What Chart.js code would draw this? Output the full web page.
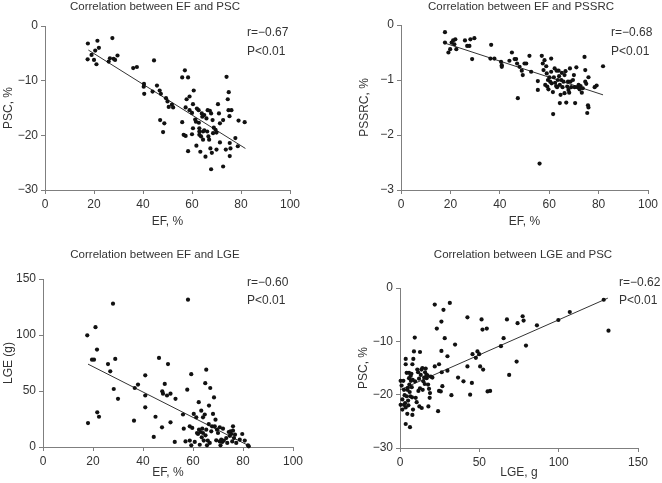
<!DOCTYPE html>
<html>
<head>
<meta charset="utf-8">
<script src="https://cdn.jsdelivr.net/npm/chart.js@4.4.1/dist/chart.umd.min.js"></script>
<style>
  body { margin: 0; background: #fff; }
  .panel { position: absolute; }
</style>
</head>
<body>
<div class="panel" style="left:0;top:0"><canvas id="c1" width="331" height="241"></canvas></div>
<div class="panel" style="left:331px;top:0"><canvas id="c2" width="331" height="241"></canvas></div>
<div class="panel" style="left:0;top:241px"><canvas id="c3" width="331" height="242"></canvas></div>
<div class="panel" style="left:331px;top:241px"><canvas id="c4" width="331" height="242"></canvas></div>
<script>
// EF (%) vs PSC (%)
const efPscPoints = [
  [17.5,-3.2],[17.4,-6.1],[19,-5.3],[20,-6.2],[20.5,-4.5],[21.4,-2.7],[21,-7],[22,-4],
  [27.5,-2.2],[26,-6.5],[26.5,-5.9],[28,-6],[28.6,-6.2],[29.6,-5.4],[36,-7.7],[37.5,-7.5],
  [44.5,-6.3],[40.4,-10.6],[40.3,-11.1],[40.5,-12.4],[43.9,-12],[45.7,-10.9],[46.8,-11.8],
  [47.3,-12.4],[47,-17.2],[48.7,-17.8],[48.2,-19.4],[49.4,-13.2],[50,-13.8],[50.5,-14.8],
  [51.8,-14.4],[52.3,-14.9],[56,-9.4],[57.1,-8.1],[58.4,-9.4],[57.8,-13.4],[56,-17.6],
  [57.4,-14.9],[56.6,-19.9],[57.4,-20.1],[58.4,-22.9],[59,-12.9],[59,-15.4],[60,-15.9],
  [60.4,-14.3],[60.7,-11.8],[60,-19.8],[60.4,-18.7],[61.3,-17.1],[61.6,-17.5],[61.8,-21.9],
  [62,-15.1],[62.7,-15.4],[62.8,-17.7],[63,-18.7],[63,-19.3],[63,-19.9],[63.4,-23],
  [63.7,-20.2],[64,-16],[64.2,-16.6],[64.5,-19.3],[64.5,-20.8],[65,-16.3],[65,-19.1],
  [65.5,-23.9],[65.9,-16.9],[66.2,-19.3],[66.4,-15.4],[66.7,-20.2],[67,-20.8],[67.3,-15.5],
  [67.5,-22.4],[67.8,-16],[67.8,-26.2],[68.1,-23.2],[68.4,-17.2],[68.6,-19.6],[68.9,-18.6],
  [69.6,-19],[70,-19.5],[70,-22.6],[70.6,-14.3],[71,-16],[71.4,-17.8],[71.4,-21.3],
  [72.7,-17.2],[72.7,-25.7],[74.1,-9.3],[73.8,-22.6],[74.6,-13.4],[75,-12.1],[74.9,-15.4],
  [75.3,-16.5],[75.4,-21.4],[75.4,-23.8],[75.7,-22.4],[76.1,-15.4],[77.7,-20.5],[78.7,-22],
  [79,-17.3],[81.5,-17.6]
];
const efPscFit = [[17.7,-4.4],[81.8,-22.4]];

// EF (%) vs PSSRC (%)
const efPssrcPoints = [
  [17.8,-0.13],[17.8,-0.32],[19.2,-0.5],[19.9,-0.44],[20.5,-0.32],[21.1,-0.28],[21.6,-0.35],
  [22,-0.26],[22.4,-0.44],[25.9,-0.28],[26.8,-0.38],[27.7,-0.38],[28.1,-0.26],[28.8,-0.62],
  [29.7,-0.24],[36.5,-0.36],[36.2,-0.61],[37.8,-0.61],[40.5,-0.67],[40.8,-0.73],[40.8,-0.76],
  [43.9,-0.65],[44.9,-0.5],[46,-0.62],[46.6,-0.62],[47,-0.7],[47.3,-1.33],[48,-0.76],
  [48.9,-0.83],[49.3,-0.91],[50,-0.7],[50.7,-0.7],[52,-0.56],[52.7,-0.85],[55.4,-1.02],
  [55.4,-1.18],[56.1,-2.52],[57,-0.56],[57.4,-0.7],[57.7,-0.82],[58.1,-0.64],[58.4,-1.09],
  [58.8,-0.75],[59,-0.88],[59.2,-1.12],[59.5,-1],[59.7,-1.17],[60.1,-0.95],[60.4,-1.03],
  [60.8,-0.61],[60.8,-0.85],[61,-1.06],[61.5,-1.22],[61.6,-1.62],[61.9,-0.95],[62.2,-0.79],
  [62.4,-1.05],[62.8,-1.11],[63,-0.83],[63.2,-1.13],[63.5,-1],[63.8,-0.83],[64,-0.93],
  [64.3,-1.09],[64.3,-1.42],[64.6,-1.27],[64.9,-1],[65.1,-0.87],[65.4,-1.13],[65.8,-1.03],
  [66.2,-0.91],[66.2,-1.24],[66.6,-0.84],[66.9,-1.41],[67.3,-1.12],[67.6,-1.03],[67.8,-1.18],
  [68.1,-1.23],[68.4,-0.79],[68.6,-1.03],[68.9,-1.13],[69.6,-1],[70,-0.91],[70.3,-1.13],
  [70.5,-1.42],[71,-0.77],[71.4,-1.13],[71.9,-1.09],[72.3,-1.17],[72.7,-1.11],[73.2,-1.23],
  [73.6,-1.15],[74.3,-0.58],[74.6,-0.82],[74.6,-1.03],[75,-1.07],[75.4,-1.6],[75.7,-1.46],
  [75.9,-1.5],[75.9,-0.95],[78.4,-1.13],[79.2,-1.1],[81.8,-0.75]
];
const efPssrcFit = [[17.8,-0.33],[81.8,-1.27]];

// EF (%) vs LGE (g)
const efLgePoints = [
  [18,21.4],[17.7,99.7],[21,107],[21.6,87],[19.6,78],[20.4,78],[21.7,31],[22.4,27],
  [26,74],[26.9,67.6],[28.3,51.8],[28.9,78.6],[28,128],[30,43],[36.4,23.5],[36.7,52.7],
  [38,55.7],[40.9,64],[40.9,46],[40.9,35.4],[44.3,9],[45,27],[46.4,79.5],[47.7,49.7],
  [47.6,17.6],[48,47.6],[48.7,56.3],[49.6,46],[50,74],[51,47.6],[51,22],[52.7,4.5],
  [53,43],[56,29],[56.3,16.4],[57.7,51.2],[58,131.5],[57,5],[58.7,18.5],[59.3,65],
  [58.7,5.7],[59.3,1.5],[59.7,17],[60.3,29.5],[60.7,4.5],[61.3,26.5],[61.6,12.5],[62,11.6],
  [62.3,40],[62.4,15.5],[62.7,2],[63,13.4],[63.3,32.4],[63.5,8.6],[63.7,16.4],[64,26.5],
  [64,12.5],[64.3,5.7],[64.7,29],[64.9,57],[65,10.4],[65.3,69],[65.3,15.5],[65.6,1.5],
  [65.9,5.7],[66.3,20.5],[66.4,37],[66.7,3.6],[66.9,52.7],[67.3,14],[67.6,18.5],[68,29.5],
  [68.4,44.3],[68.7,18.5],[69,24.4],[69.3,6],[69.6,15.5],[70,12.5],[70.7,17.6],[70.7,5],
  [71,1.5],[71.3,6.5],[71.7,4.5],[72,16.4],[72.3,5.7],[73.3,8],[73.7,3.6],[74.3,13.4],
  [74.7,10],[75,14],[75.3,11.6],[75.7,5],[76,14.6],[76,18.5],[76.4,8],[76.8,11],
  [77.3,3.6],[78.7,6.5],[79.7,11.6],[80.7,5.7],[82.3,0.6],[82,1.5]
];
const efLgeFit = [[18,74],[82,1.5]];

// LGE (g) vs PSC (%)
const lgePscPoints = [
  [0.4,-17.4],[0.4,-21.9],[1,-18.3],[1.5,-20.9],[1.5,-22.8],[2.1,-17.4],[2.5,-19.1],
  [2.5,-21.9],[2.9,-20.1],[3.2,-21.6],[3.6,-13.3],[3.6,-22.4],[3.6,-25.5],[3.6,-14.3],
  [4.2,-15.9],[4.2,-20.3],[4.6,-23.6],[4.6,-19.1],[5,-18.7],[5.1,-21.1],[5.3,-22],
  [5.7,-15.9],[5.7,-16.9],[5.9,-18.1],[6.1,-19.5],[6.3,-26.1],[6.5,-20.3],[6.7,-16.5],
  [6.9,-17.4],[7.2,-16.1],[7.4,-18.6],[7.6,-20.5],[7.8,-23.8],[7.8,-14.3],[8,-17.2],
  [8.2,-22.8],[8.4,-13.3],[8.8,-11.9],[9.3,-9.3],[9.5,-17.5],[9.9,-20.6],[10.5,-21.4],
  [10.9,-15.3],[11.4,-15.8],[11.6,-19.3],[12,-17],[12.2,-22.2],[12.6,-12],[12.6,-18.8],
  [13.1,-16.3],[13.5,-15.3],[13.7,-22.5],[14.1,-15],[14.3,-19.1],[14.7,-17.5],[15.2,-16.8],
  [15.6,-18],[15.8,-15.8],[16.2,-15.1],[16.6,-16.3],[16.8,-16.9],[17.3,-16.4],[17.7,-18.1],
  [17.9,-22.2],[18.3,-18.9],[18.7,-20.6],[18.9,-19.7],[19.4,-16.6],[20.4,-16.8],[21.9,-14.7],
  [21.9,-3.1],[23.2,-7.6],[24,-23.1],[24.6,-14.3],[24.6,-19.3],[25.7,-19.4],[26.1,-6.3],
  [26.1,-11.8],[26.3,-15.8],[26.7,-18.4],[27.4,-4.1],[28.2,-9.4],[29.9,-12.8],[29.9,-15.5],
  [31.4,-2.8],[32.4,-20.1],[34.7,-10.6],[36.6,-16.8],[40,-17.5],[42.5,-5.5],[42.5,-14.7],
  [44.2,-20],[45.3,-17.8],[45.7,-12.4],[47.8,-13.1],[48.8,-11.9],[49.9,-12.4],[50.5,-14.7],
  [51.4,-5.9],[52,-7.8],[52.4,-15.3],[54.7,-7.6],[55.2,-19.4],[56.8,-19.3],[63.6,-10.9],
  [65.3,-9.4],[67.4,-5.9],[68.8,-16.3],[73.5,-13.8],[74.1,-6.6],[77.3,-5.3],[77.9,-6.1],
  [79.4,-10.8],[86.3,-7],[99.8,-6],[107,-4.5],[128.4,-2.2],[131.4,-8]
];
const lgePscFit = [[0,-19.1],[131,-1.9]];

const efTicks = [0, 20, 40, 60, 80, 100];
const lgeTicks = [0, 50, 100, 150];
const pscTicks = [-30, -20, -10, 0];
const pssrcTicks = [-3, -2, -1, 0];
const lgeYTicks = [0, 50, 100, 150];

const textColor = "#333333";
const axisColor = "#7f7f7f";
const fontFamily = "'Liberation Sans', Arial, sans-serif";

const panelText = {
  id: "panelText",
  afterDraw(chart, args, opts) {
    const ctx = chart.ctx;
    ctx.save();
    ctx.fillStyle = textColor;
    ctx.textBaseline = "middle";
    ctx.font = "11.5px " + fontFamily;
    ctx.textAlign = "center";
    ctx.fillText(opts.title, opts.titleX, opts.titleY);
    ctx.font = "12px " + fontFamily;
    ctx.textAlign = "left";
    ctx.fillText(opts.r, opts.statX, opts.statY);
    ctx.fillText("P<0.01", opts.statX, opts.statY + 18.5);
    ctx.restore();
  }
};

function toXY(pairs) {
  return pairs.map(p => ({ x: p[0], y: p[1] }));
}

function fmt(v) {
  return String(v).replace("-", "\u2212");
}

function makeAxis(ticks, title, size, titlePad, isX) {
  return {
    type: "linear",
    min: ticks[0],
    max: ticks[ticks.length - 1],
    afterBuildTicks: scale => { scale.ticks = ticks.map(v => ({ value: v })); },
    afterFit: scale => { if (isX) scale.height = size; else scale.width = size; },
    grid: { display: true, drawOnChartArea: false, drawTicks: true, tickLength: 4, color: axisColor },
    border: { display: true, color: axisColor, width: 1 },
    ticks: {
      color: textColor,
      padding: 3,
      maxRotation: 0,
      autoSkip: false,
      font: { family: fontFamily, size: 12 },
      callback: v => fmt(v)
    },
    title: {
      display: true,
      text: title,
      color: textColor,
      font: { family: fontFamily, size: 12 },
      padding: titlePad
    }
  };
}

function makePanel(id, p) {
  new Chart(document.getElementById(id), {
    type: "scatter",
    data: {
      datasets: [
        {
          data: toXY(p.points),
          backgroundColor: "#111",
          borderColor: "#111",
          pointRadius: 2.1,
          pointBorderWidth: 0,
          clip: false
        },
        {
          data: toXY(p.fit),
          showLine: true,
          borderColor: "#333",
          borderWidth: 1,
          pointRadius: 0,
          clip: false
        }
      ]
    },
    options: {
      responsive: false,
      animation: false,
      layout: { padding: p.pad },
      plugins: {
        legend: { display: false },
        tooltip: { enabled: false },
        panelText: p.text
      },
      scales: {
        x: makeAxis(p.xTicks, p.xTitle, p.xHeight, { top: 0, bottom: p.xTitlePad }, true),
        y: makeAxis(p.yTicks, p.yTitle, p.yWidth, { top: 1, bottom: 0 }, false)
      }
    },
    plugins: [panelText]
  });
}

makePanel("c1", {
  points: efPscPoints, fit: efPscFit,
  xTicks: efTicks, yTicks: pscTicks, xTitle: "EF, %", yTitle: "PSC, %",
  pad: { top: 26, right: 41, bottom: 0, left: 0 }, xHeight: 51, yWidth: 45, xTitlePad: 12,
  text: { title: "Correlation between EF and PSC", titleX: 155, titleY: 7, r: "r=\u22120.67", statX: 247, statY: 33 }
});

makePanel("c2", {
  points: efPssrcPoints, fit: efPssrcFit,
  xTicks: efTicks, yTicks: pssrcTicks, xTitle: "EF, %", yTitle: "PSSRC, %",
  pad: { top: 25, right: 14, bottom: 0, left: 25 }, xHeight: 51, yWidth: 45, xTitlePad: 12,
  text: { title: "Correlation between EF and PSSRC", titleX: 190, titleY: 7, r: "r=\u22120.68", statX: 280, statY: 33 }
});

makePanel("c3", {
  points: efLgePoints, fit: efLgeFit,
  xTicks: efTicks, yTicks: lgeYTicks, xTitle: "EF, %", yTitle: "LGE (g)",
  pad: { top: 38, right: 38, bottom: 0, left: 0 }, xHeight: 36, yWidth: 43, xTitlePad: 3,
  text: { title: "Correlation between EF and LGE", titleX: 155, titleY: 14, r: "r=\u22120.60", statX: 247, statY: 41.5 }
});

makePanel("c4", {
  points: lgePscPoints, fit: lgePscFit,
  xTicks: lgeTicks, yTicks: pscTicks, xTitle: "LGE, g", yTitle: "PSC, %",
  pad: { top: 47, right: 24, bottom: 0, left: 24 }, xHeight: 35, yWidth: 45, xTitlePad: 3,
  text: { title: "Correlation between LGE and PSC", titleX: 192, titleY: 14, r: "r=\u22120.62", statX: 288, statY: 41.5 }
});
</script>
</body>
</html>
